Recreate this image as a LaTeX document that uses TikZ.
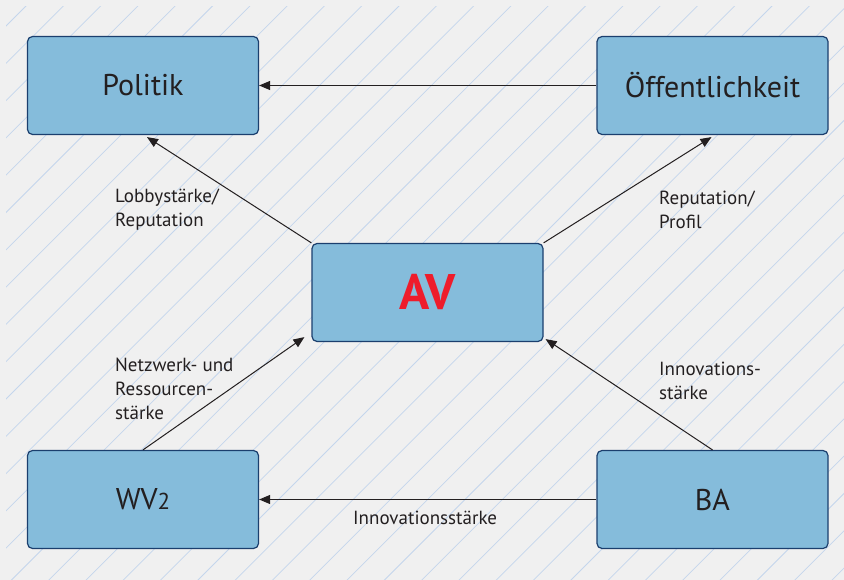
\documentclass[tikz,border=0pt]{standalone}
\usepackage{fontspec}
\setmainfont{PT Sans}
\usepackage{xcolor}
\usetikzlibrary{arrows.meta, positioning}

\definecolor{bgGrey}{HTML}{F0F0F0}
\definecolor{hatchBlue}{HTML}{C4D6EC}
\definecolor{boxFill}{HTML}{85BCDB}
\definecolor{boxLine}{HTML}{1B3F6E}
\definecolor{txtDark}{HTML}{231F20}
\definecolor{avRed}{HTML}{EE1C2B}

\begin{document}
\begin{tikzpicture}[x=1pt, y=-1pt, >={Triangle[length=11pt,width=9pt]},
  box/.style={draw=boxLine, line width=1.2pt, fill=boxFill, rounded corners=5pt,
    minimum width=231pt, minimum height=98pt, inner sep=0pt,
    text=txtDark, font=\fontsize{30}{36}\selectfont},
  lbl/.style={align=left, anchor=west, inner sep=0pt, text=txtDark,
    font=\fontsize{19}{24}\selectfont},
  link/.style={->, line width=1pt, txtDark}]
  % Background and hatching
  \useasboundingbox (0,0) rectangle (844,580);
  \fill[bgGrey] (0,0) rectangle (844,580);
  \begin{scope}
    \clip (6,7) rectangle (844,580);
    \foreach \k in {0,...,39}
      \draw[hatchBlue, line width=0.75pt] ({32+37.3*\k},0) -- ({32+37.3*\k-600},600);
  \end{scope}
  % Boxes
  \node[box] (politik) at (143,85.5) {Politik};
  \node[box] (oeff) at (712.5,85.5) {Öffentlichkeit};
  \node[box, font=\fontsize{50}{54}\selectfont\bfseries, text=avRed] (av) at (427.5,292.5) {AV};
  \node[box] (wv) at (143,499.5) {WV{\fontsize{23}{28}\selectfont 2}};
  \node[box] (ba) at (712.5,499.5) {BA};
  % Connectors
  \draw[link] (oeff) -- (politik);
  \draw[link] (ba) -- (wv);
  \draw[link] (av.north west) -- ([xshift=4pt,yshift=-2pt]politik.south);
  \draw[link] (av.north east) -- ([xshift=-1pt,yshift=-2pt]oeff.south);
  \draw[link] (wv.north) -- ([xshift=-7pt,yshift=5pt]av.south west);
  \draw[link] (ba.north) -- ([xshift=2pt,yshift=3pt]av.south east);
  % Labels
  \node[lbl] (lobby) at (115,209.5) {Lobbystärke/\\Reputation};
  \node[lbl] (repu) at (659,210) {Reputation/\\Profil};
  \node[lbl] (netz) at (115,389) {Netzwerk- und\\Ressourcen-\\stärke};
  \node[lbl] (innoA) at (659,381) {Innovations-\\stärke};
  \node[lbl] (innoB) at (353,518) {Innovationsstärke};
\end{tikzpicture}
\end{document}
